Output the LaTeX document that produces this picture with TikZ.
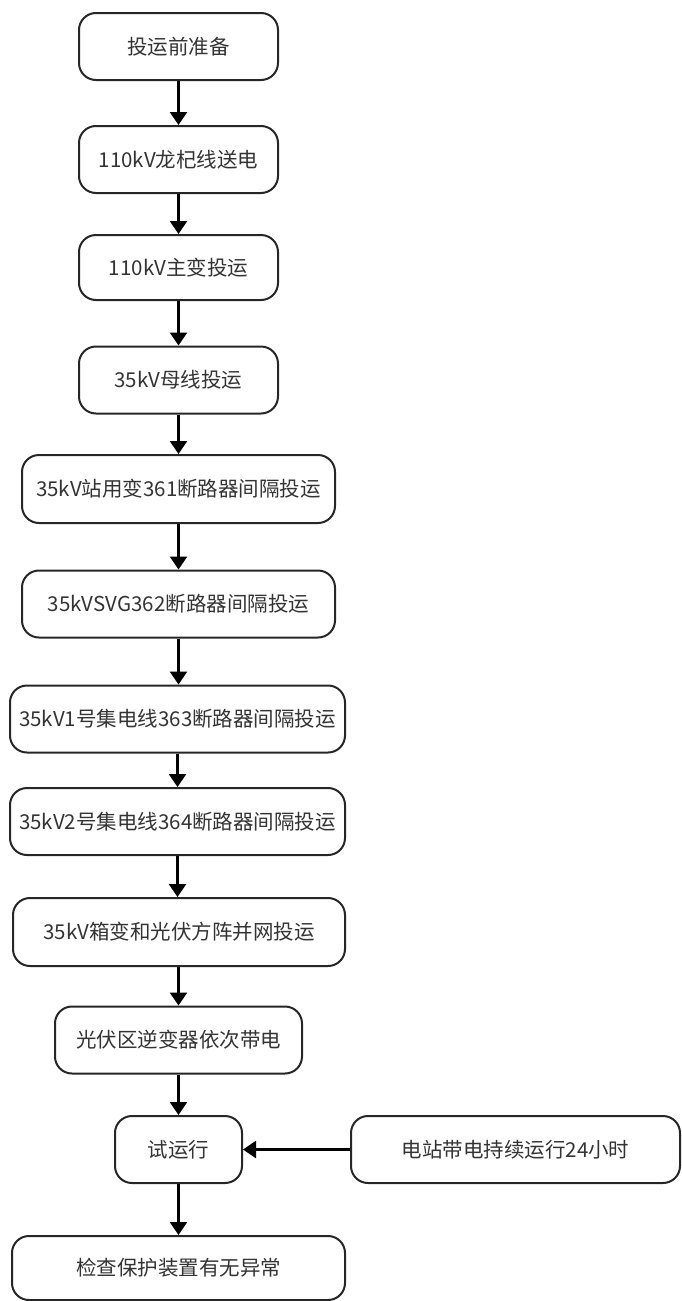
\documentclass[tikz,border=0pt]{standalone}
\usepackage{fontspec}
\setmainfont{Noto Sans CJK SC}
\usetikzlibrary{arrows.meta}
\begin{document}
\begin{tikzpicture}[x=1pt,y=-1pt,
  stepbox/.style={draw=black!85, line width=2pt, rounded corners=17pt, minimum height=67pt, inner sep=0pt, text=black!80, font=\fontsize{20.5}{24}\selectfont},
  conn/.style={line width=2.6pt, black, -{Triangle[length=13pt,width=17pt]}}]
\useasboundingbox (0,0) rectangle (681,1301);
\node[stepbox, minimum width=199pt] (n1) at (178.5,46.5) {投运前准备};
\node[stepbox, minimum width=199pt] (n2) at (178.5,159.5) {110kV龙杞线送电};
\node[stepbox, minimum width=199pt, minimum height=65pt] (n3) at (178.5,267.5) {110kV主变投运};
\node[stepbox, minimum width=199pt] (n4) at (178.5,380) {35kV母线投运};
\node[stepbox, minimum width=313pt, minimum height=68pt] (n5) at (178.5,489) {35kV站用变361断路器间隔投运};
\node[stepbox, minimum width=313pt] (n6) at (178.5,604) {35kVSVG362断路器间隔投运};
\node[stepbox, minimum width=335pt] (n7) at (177.5,719) {35kV1号集电线363断路器间隔投运};
\node[stepbox, minimum width=335pt] (n8) at (177.5,821.5) {35kV2号集电线364断路器间隔投运};
\node[stepbox, minimum width=332pt, minimum height=68pt] (n9) at (179,932) {35kV箱变和光伏方阵并网投运};
\node[stepbox, minimum width=247pt] (n10) at (178.5,1040) {光伏区逆变器依次带电};
\node[stepbox, minimum width=127pt] (n11) at (178.5,1149.5) {试运行};
\node[stepbox, minimum width=329pt] (n12) at (515.5,1149.5) {电站带电持续运行24小时};
\node[stepbox, minimum width=333pt, minimum height=64pt] (n13) at (178.5,1268) {检查保护装置有无异常};
\draw[conn] (n1) -- (n2);
\draw[conn] (n2) -- (n3);
\draw[conn] (n3) -- (n4);
\draw[conn] (n4) -- (n5);
\draw[conn] (n5) -- (n6);
\draw[conn] (n6.south) -- (n7.north -| n6.south);
\draw[conn] (n7.south) -- (n8.north -| n7.south);
\draw[conn] (n8.south) -- (n9.north -| n8.south);
\draw[conn] (n9.south -| n10.north) -- (n10.north);
\draw[conn] (n10) -- (n11);
\draw[conn] (n12) -- (n11);
\draw[conn] (n11) -- (n13);
\end{tikzpicture}
\end{document}
